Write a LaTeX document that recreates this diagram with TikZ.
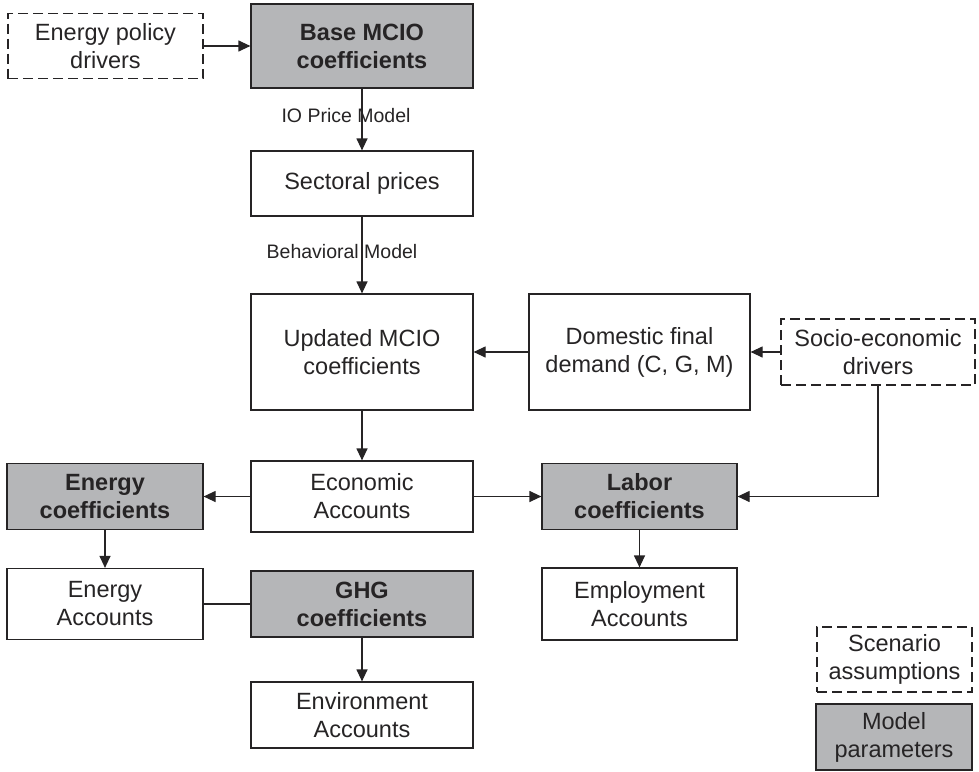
\documentclass[tikz,border=0pt]{standalone}
\usepackage{fontspec}
\setmainfont{Liberation Sans}
\usetikzlibrary{arrows.meta}
\definecolor{parmgray}{RGB}{181,182,184}
\definecolor{inkgray}{RGB}{38,36,37}
\tikzset{
  plainbox/.style={draw=inkgray, line width=1.2pt, align=center, inner sep=0pt, text=inkgray, font=\fontsize{23.5}{28}\selectfont},
  driverbox/.style={plainbox, dash pattern=on 10pt off 5pt},
  coefbox/.style={plainbox, fill=parmgray, font=\bfseries\fontsize{23.5}{28}\selectfont},
  lbl/.style={font=\fontsize{19.5}{23}\selectfont, text=inkgray},
}
\begin{document}
\begin{tikzpicture}[x=1pt, y=-1pt, >={Triangle[length=12pt,width=11pt]}, line width=1.2pt, draw=inkgray]
	\useasboundingbox (0,0) rectangle (979,771);
	%top of the chain
	\node[driverbox, minimum width=195, minimum height=65] (policy) at (105.5,46) {Energy policy\\drivers};
	\node[coefbox, minimum width=222, minimum height=84] (base) at (362,46) {Base MCIO\\coefficients};
	\node[plainbox, minimum width=222, minimum height=65] (prices) at (362,183.5) {Sectoral prices};
	\node[plainbox, minimum width=222, minimum height=116] (updated) at (362,352) {Updated MCIO\\coefficients};
	\node[plainbox, minimum width=221, minimum height=116] (domestic) at (639.5,352) {Domestic final\\demand (C, G, M)};
	\node[driverbox, minimum width=194, minimum height=66] (socio) at (878,352) {Socio-economic\\drivers};
	%accounts
	\node[plainbox, minimum width=222, minimum height=71] (econ) at (362,496.5) {Economic\\Accounts};
	\node[coefbox, minimum width=196, minimum height=66] (energycoef) at (105,496.5) {Energy\\coefficients};
	\node[coefbox, minimum width=195, minimum height=66] (labor) at (639.5,496.5) {Labor\\coefficients};
	\node[plainbox, minimum width=196, minimum height=71] (energyacc) at (105,604) {Energy\\Accounts};
	\node[coefbox, minimum width=222, minimum height=66] (ghg) at (362,604) {GHG\\coefficients};
	\node[plainbox, minimum width=195, minimum height=72] (employ) at (639.5,604) {Employment\\Accounts};
	\node[plainbox, minimum width=222, minimum height=66] (envacc) at (362,715) {Environment\\Accounts};
	%legend
	\node[driverbox, minimum width=155, minimum height=65] (scenario) at (894.5,659.5) {Scenario\\assumptions};
	\node[plainbox, fill=parmgray, minimum width=156, minimum height=66] (params) at (894,737) {Model\\parameters};
	%connectors
	\draw[->] (policy) -- (base);
	\draw[->] (base) -- node[lbl, pos=0.43, xshift=-16pt] {IO Price Model} (prices);
	\draw[->] (prices) -- node[lbl, pos=0.45, xshift=-20pt] {Behavioral Model} (updated);
	\draw[->] (domestic) -- (updated);
	\draw[->] (socio) -- (domestic);
	\draw[->] (updated) -- (econ);
	\draw[->] (econ) -- (energycoef);
	\draw[->] (econ) -- (labor);
	\draw[->] (socio.south) |- (labor.east);
	\draw[->] (energycoef) -- (energyacc);
	\draw (energyacc) -- (ghg);
	\draw[->] (ghg) -- (envacc);
	\draw[->] (labor) -- (employ);
\end{tikzpicture}
\end{document}
